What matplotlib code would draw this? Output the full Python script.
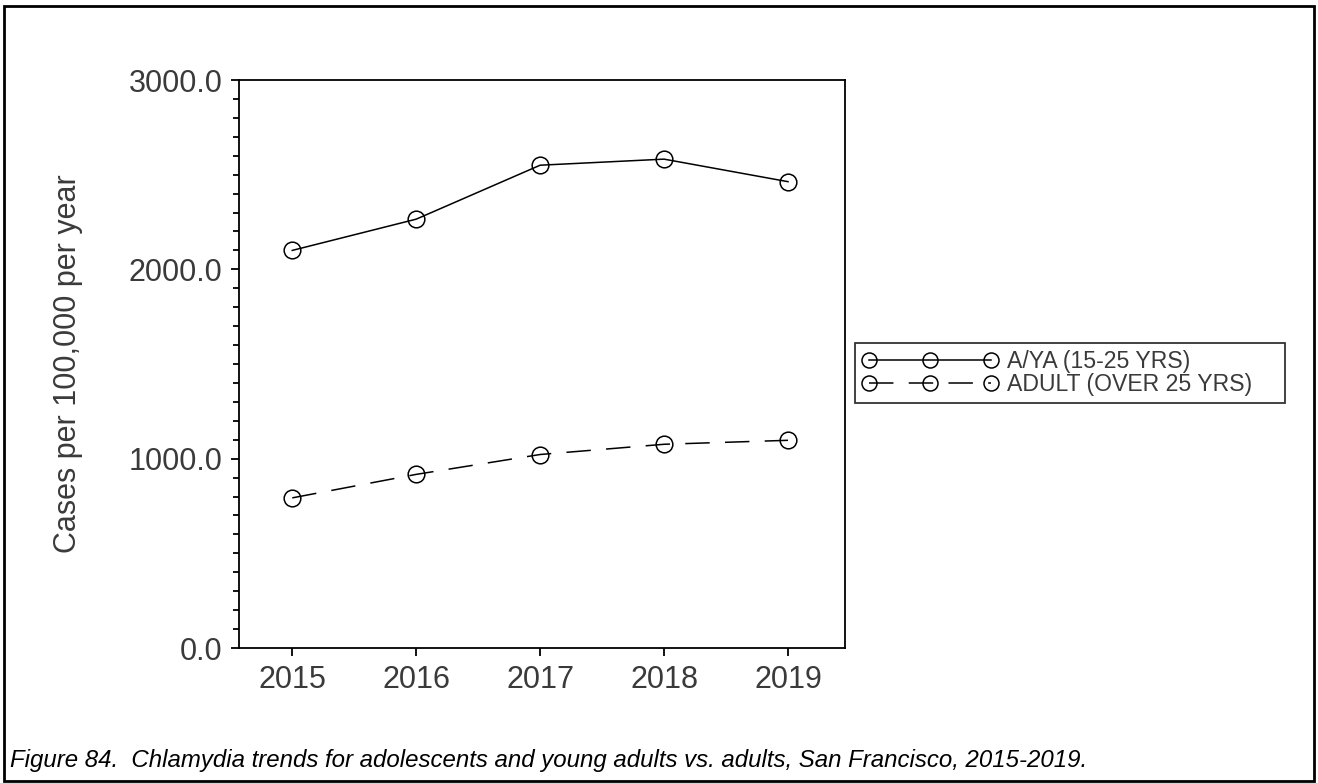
import matplotlib
matplotlib.use("Agg")
import matplotlib.pyplot as plt
from matplotlib.patches import Rectangle
from matplotlib.ticker import MultipleLocator, FormatStrFormatter

plt.rcParams['font.family'] = ['Liberation Sans', 'DejaVu Sans']

years = [2015, 2016, 2017, 2018, 2019]
aya = [2100, 2265, 2550, 2582, 2463]
adult = [793, 917, 1022, 1076, 1097]
labels = ['A/YA (15-25 YRS)', 'ADULT (OVER 25 YRS)']
caption = ("Figure 84.  Chlamydia trends for adolescents and young adults vs. adults, "
           "San Francisco, 2015-2019.")
ylabel = 'Cases per 100,000 per year'

txt = '#3a3a3a'

fig = plt.figure(figsize=(13.18, 7.83), dpi=100)
ax = fig.add_axes([239 / 1318, 1 - 648 / 783, (845 - 239) / 1318, (648 - 80) / 783])

ax.plot(years, aya, color='black', lw=1.1, marker='o', ms=12, mfc='none',
        mec='black', mew=1.1, label=labels[0])
ax.plot(years, adult, color='black', lw=1.1, marker='o', ms=12, mfc='none',
        mec='black', mew=1.1, dashes=(16, 10), label=labels[1])

ax.set_xlim(2014.57, 2019.46)
ax.set_ylim(0, 3000)
ax.set_xticks(years)
ax.yaxis.set_major_locator(MultipleLocator(1000))
ax.yaxis.set_minor_locator(MultipleLocator(100))
ax.yaxis.set_major_formatter(FormatStrFormatter('%.1f'))

for s in ax.spines.values():
    s.set_linewidth(1.3)
ax.tick_params(axis='both', which='major', length=6, width=1.3, labelsize=22,
               labelcolor=txt, pad=6)
ax.tick_params(axis='y', which='minor', length=4, width=1.3)

ax.set_ylabel(ylabel, fontsize=22, color=txt)
ax.yaxis.set_label_coords(-0.257, 0.5)

# legend to the right of the axes, three markers per handle like the original
leg = fig.legend(loc='upper left',
                 bbox_to_anchor=(855 / 1318, 1 - 400 / 783, 430 / 1318, 57 / 783),
                 mode='expand', fontsize=16.6, numpoints=3, markerscale=0.9,
                 handlelength=5.9, handletextpad=0.4, frameon=True,
                 fancybox=False, edgecolor='black', borderpad=0.3,
                 labelspacing=0.0, borderaxespad=0)
leg.get_frame().set_linewidth(1.3)
for t in leg.get_texts():
    t.set_color(txt)

fig.text(10 / 1318, 1 - 767 / 783, caption, fontsize=17.3, style='italic',
         color='black', va='baseline', ha='left')

# outer border round the whole figure
fig.patches.append(Rectangle((4 / 1318, 1 - 781 / 783), 1310 / 1318, 775 / 783,
                             transform=fig.transFigure, fill=False,
                             edgecolor='black', lw=2))

fig.savefig('out.png', dpi=100)
